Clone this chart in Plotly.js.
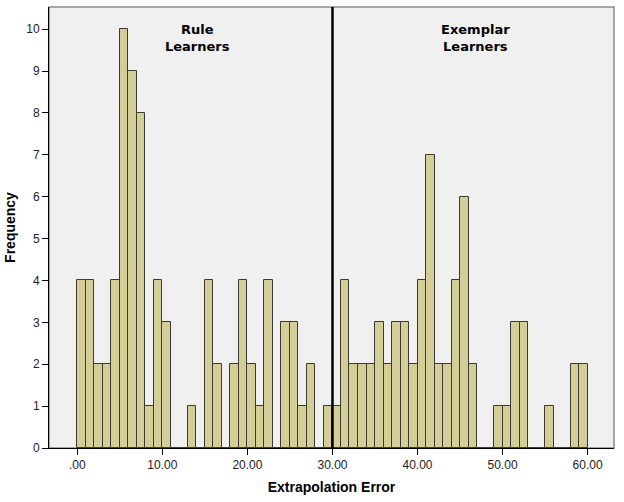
<!DOCTYPE html>
<html>
<head>
<meta charset="utf-8">
<script src="https://cdn.plot.ly/plotly-3.0.1.min.js"></script>
<style>
  html, body { margin: 0; padding: 0; background: #fff; }
  #myPlot { width: 624px; height: 502px; }
</style>
</head>
<body>
<div id="myPlot"></div>
<script>
/**
 * Grab our plot
 */
const myPlot = document.getElementById("myPlot");

/**
 * Data: histogram bins of width 1 (lower edge) and their counts
 */
const binStart = [
  0, 1, 2, 3, 4, 5, 6, 7, 8, 9,
  10, 11, 12, 13, 14, 15, 16, 17, 18, 19,
  20, 21, 22, 23, 24, 25, 26, 27, 28, 29,
  30, 31, 32, 33, 34, 35, 36, 37, 38, 39,
  40, 41, 42, 43, 44, 45, 46, 47, 48, 49,
  50, 51, 52, 53, 54, 55, 56, 57, 58, 59
];
const counts = [
  4, 4, 2, 2, 4, 10, 9, 8, 1, 4,
  3, 0, 0, 1, 0, 4, 2, 0, 2, 4,
  2, 1, 4, 0, 3, 3, 1, 2, 0, 1,
  1, 4, 2, 2, 2, 3, 2, 3, 3, 2,
  4, 7, 2, 2, 4, 6, 2, 0, 0, 1,
  1, 3, 3, 0, 0, 1, 0, 0, 2, 2
];
const binWidth = 1;
const cutoff = 30;

const xTickVals = [0, 10, 20, 30, 40, 50, 60];
const xTickText = [".00", "10.00", "20.00", "30.00", "40.00", "50.00", "60.00"];

const groupLabels = ["<b>Rule<br>Learners</b>", "<b>Exemplar<br>Learners</b>"];
const groupLabelX = [14.1, 46.8];

/**
 * Trace
 */
const data = [
  {
    type: "bar",
    x: binStart.map(b => b + binWidth / 2),
    y: counts,
    width: binWidth,
    marker: {
      color: "#D3CE97",
      line: { color: "#3a3a2e", width: 1 }
    },
    hoverinfo: "x+y"
  }
];

/**
 * Layout
 */
const layout = {
  width: 624,
  height: 502,
  margin: { l: 49, r: 10, t: 7, b: 54 },
  paper_bgcolor: "#ffffff",
  plot_bgcolor: "#F0F0F0",
  showlegend: false,
  bargap: 0,
  font: { family: "Liberation Sans, Arial, sans-serif", size: 12, color: "#222" },
  xaxis: {
    range: [-3.33, 63.1],
    tickvals: xTickVals,
    ticktext: xTickText,
    ticks: "outside",
    ticklen: 6,
    tickcolor: "#000",
    showline: true,
    linecolor: "#000",
    linewidth: 1,
    showgrid: false,
    zeroline: false,
    title: {
      text: "<b>Extrapolation Error</b>",
      font: { family: "Liberation Sans, Arial, sans-serif", size: 14, color: "#000" },
      standoff: 10
    }
  },
  yaxis: {
    range: [0, 10.53],
    dtick: 1,
    tick0: 0,
    ticks: "outside",
    ticklen: 6,
    tickcolor: "#000",
    showline: true,
    linecolor: "#000",
    linewidth: 1,
    showgrid: false,
    zeroline: false,
    title: {
      text: "<b>Frequency</b>",
      font: { family: "Liberation Sans, Arial, sans-serif", size: 14, color: "#000" },
      standoff: 7
    }
  },
  shapes: [
    {
      type: "rect", xref: "paper", yref: "paper",
      x0: 0, x1: 1, y0: 0, y1: 1,
      line: { color: "#8a8a8a", width: 1.5 },
      layer: "below"
    },
    {
      type: "line", xref: "x", yref: "paper",
      x0: cutoff, x1: cutoff, y0: 0, y1: 1,
      line: { color: "#000", width: 2.5 }
    }
  ],
  annotations: groupLabels.map((t, i) => ({
    text: t,
    x: groupLabelX[i],
    y: 9.8,
    xref: "x",
    yref: "y",
    showarrow: false,
    align: "center",
    font: { family: "DejaVu Sans, Verdana, sans-serif", size: 13, color: "#000" }
  }))
};

Plotly.newPlot(myPlot, data, layout, { displayModeBar: false });
</script>
</body>
</html>
